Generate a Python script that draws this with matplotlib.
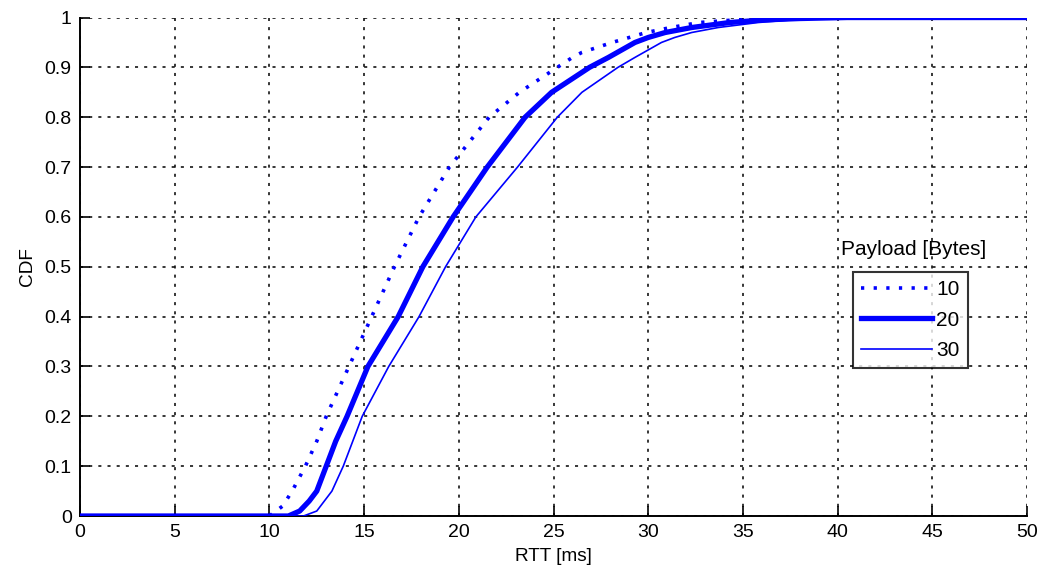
import matplotlib
matplotlib.use("Agg")
import matplotlib.pyplot as plt
import numpy as np

plt.rcParams['font.family'] = ['Liberation Sans', 'DejaVu Sans']

# RTT CDF per payload size (x in ms, y = cumulative fraction)
rtt_10 = [0, 10.0, 10.7, 11.2, 11.9, 12.5, 13.0, 14.2, 15.4, 16.6, 17.9, 19.5, 21.6,
          23.2, 25.2, 26.0, 26.5, 28.1, 29.0, 29.9, 31.2, 32.7, 34.5, 36.5, 39.0, 50]
cdf_10 = [0, 0, 0.02, 0.05, 0.10, 0.15, 0.20, 0.30, 0.40, 0.50, 0.60, 0.70, 0.80,
          0.85, 0.90, 0.92, 0.93, 0.95, 0.96, 0.97, 0.98, 0.99, 0.995, 0.998, 1.0, 1.0]

rtt_20 = [0, 11.0, 11.6, 12.1, 12.5, 13.0, 13.5, 14.1, 15.2, 16.8, 18.1, 19.7, 21.5,
          23.5, 24.9, 26.9, 27.9, 29.3, 30.0, 30.9, 32.3, 34.3, 36.0, 38.0, 40.5, 50]
cdf_20 = [0, 0, 0.01, 0.03, 0.05, 0.10, 0.15, 0.20, 0.30, 0.40, 0.50, 0.60, 0.70,
          0.80, 0.85, 0.90, 0.92, 0.95, 0.96, 0.97, 0.98, 0.99, 0.995, 0.998, 1.0, 1.0]

rtt_30 = [0, 11.8, 12.5, 13.3, 13.9, 14.4, 14.9, 16.3, 17.9, 19.3, 20.9, 23.1, 25.2,
          26.5, 28.4, 29.3, 30.7, 31.4, 32.3, 33.7, 35.8, 37.5, 39.0, 42.0, 50]
cdf_30 = [0, 0, 0.01, 0.05, 0.10, 0.15, 0.20, 0.30, 0.40, 0.50, 0.60, 0.70, 0.80,
          0.85, 0.90, 0.92, 0.95, 0.96, 0.97, 0.98, 0.99, 0.995, 0.998, 1.0, 1.0]

payloads = ['10', '20', '30']
x_ticks = np.arange(0, 51, 5)
y_ticks = np.round(np.arange(0, 1.01, 0.1), 1)

fig = plt.figure(figsize=(10.43, 5.71), dpi=100)
ax = fig.add_axes([0.0767, 0.0963, 0.908, 0.873])

blue = '#0000ff'
ax.plot(rtt_10, cdf_10, color=blue, lw=2.6, ls=(0, (0.9, 2.6)), label=payloads[0], zorder=3)
ax.plot(rtt_20, cdf_20, color=blue, lw=3.8, ls='-', label=payloads[1], zorder=3)
ax.plot(rtt_30, cdf_30, color=blue, lw=1.2, ls='-', label=payloads[2], zorder=3)

ax.set_xlim(0, 50)
ax.set_ylim(0, 1)
ax.set_xticks(x_ticks)
ax.set_yticks(y_ticks)
ax.set_xticklabels([str(v) for v in x_ticks])
ax.set_yticklabels([f'{v:g}' for v in y_ticks])
ax.tick_params(direction='in', length=7, width=1.2, labelsize=14, pad=6)

ax.grid(True, color='black', ls=(0, (2, 4)), lw=1.1)
ax.spines['top'].set_visible(False)
ax.spines['right'].set_visible(False)
for s in ('left', 'bottom'):
    ax.spines[s].set_linewidth(1.4)

ax.set_xlabel('RTT [ms]', fontsize=13.7, labelpad=5)
ax.set_ylabel('CDF', fontsize=13.7, labelpad=6)

leg = ax.legend(loc='upper left', bbox_to_anchor=(0.816, 0.49), fontsize=15,
                handlelength=3.4, handletextpad=0.2, labelspacing=0.55,
                borderpad=0.4, borderaxespad=0, fancybox=False, frameon=True)
leg.get_frame().set_edgecolor('black')
leg.get_frame().set_linewidth(1.5)
ax.text(0.88, 0.534, 'Payload [Bytes]', transform=ax.transAxes, fontsize=15,
        ha='center', va='center')

fig.savefig('out.png', dpi=100)
